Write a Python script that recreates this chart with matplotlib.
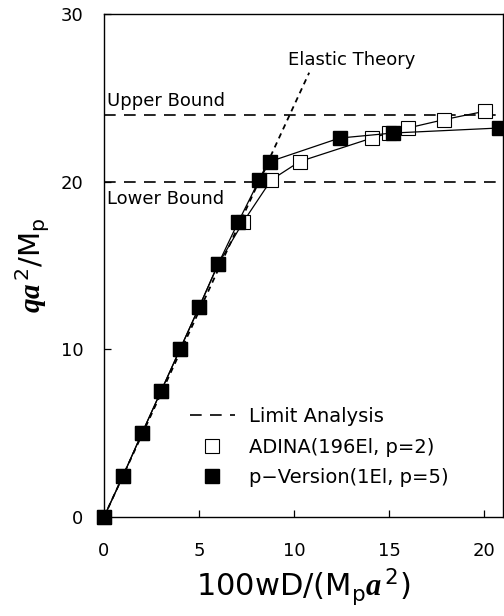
import matplotlib
matplotlib.use('Agg')
import matplotlib.pyplot as plt

plt.rcParams['font.family'] = ['DejaVu Sans']
plt.rcParams['mathtext.fontset'] = 'custom'
plt.rcParams['mathtext.rm'] = 'DejaVu Sans'
plt.rcParams['mathtext.it'] = 'DejaVu Sans:italic'
plt.rcParams['mathtext.bfit'] = 'Liberation Serif:italic:bold'

# p-Version (1 El, p=5), filled squares
pv_x = [0, 1.0, 2.0, 3.0, 4.0, 5.0, 6.0, 7.07, 8.17, 8.74, 12.4, 15.2, 20.8]
pv_y = [0, 2.45, 5.0, 7.5, 10.0, 12.5, 15.06, 17.6, 20.1, 21.2, 22.6, 22.9, 23.2]

# ADINA (196 El, p=2), open squares
ad_x = [0, 1.0, 2.0, 3.0, 4.0, 5.0, 6.0, 7.33, 8.8, 10.3, 14.1, 15.0, 16.0, 17.9, 20.05]
ad_y = [0, 2.45, 5.0, 7.5, 10.0, 12.5, 15.06, 17.6, 20.1, 21.2, 22.6, 22.9, 23.2, 23.7, 24.2]

# elastic theory line and limit analysis bounds
elastic_x = [0, 10.8]
elastic_y = [0, 26.5]
upper_bound = 24.0
lower_bound = 20.0

fig = plt.figure(figsize=(5.04, 6.16), dpi=100)
ax = fig.add_axes([0.2063, 0.1607, 0.7917, 0.8166])

ax.plot(elastic_x, elastic_y, color='black', lw=1.3, ls=(0, (3, 2.5)))
ax.axhline(upper_bound, color='black', lw=1.2, ls=(0, (7, 5)), label='Limit Analysis')
ax.axhline(lower_bound, color='black', lw=1.2, ls=(0, (7, 5)))

ax.plot(ad_x, ad_y, color='black', lw=0.9, marker='s', ms=10, mfc='white',
        mec='black', mew=0.8, clip_on=False, label='ADINA(196El, p=2)')
ax.plot(pv_x, pv_y, color='black', lw=0.9, marker='s', ms=10, mfc='black',
        mec='black', clip_on=False, label='p\u2212Version(1El, p=5)')

ax.text(0.17, 24.25, 'Upper Bound', fontsize=13, ha='left', va='bottom')
ax.text(0.17, 19.5, 'Lower Bound', fontsize=13, ha='left', va='top')
ax.text(13.05, 27.25, 'Elastic Theory', fontsize=13, ha='center', va='center')

ax.set_xlim(0, 21)
ax.set_ylim(0, 30)
ax.set_xticks([0, 5, 10, 15, 20])
ax.set_yticks([0, 10, 20, 30])
ax.tick_params(direction='in', labelsize=13, length=5, width=0.9,
               right=False, top=False)
ax.tick_params(axis='x', pad=18)
ax.tick_params(axis='y', pad=15)
for s in ax.spines.values():
    s.set_linewidth(1.0)

ax.set_xlabel(r'$\mathrm{100wD/(M_p}\mathbfit{a}^{\,\mathrm{2}}\mathrm{)}$', fontsize=22, labelpad=5)
ax.set_ylabel(r'$\mathbfit{qa}^{\,\mathrm{2}}\mathrm{/M_p}$', fontsize=21, labelpad=6)

leg = ax.legend(loc='upper left', bbox_to_anchor=(0.2155, 0.219), frameon=False,
                fontsize=14, handlelength=2.3, numpoints=1, labelspacing=0.6,
                handletextpad=0.75, borderaxespad=0, borderpad=0)
for h in leg.legend_handles[1:]:
    h.set_linestyle('none')

fig.savefig('out.png', dpi=100)
